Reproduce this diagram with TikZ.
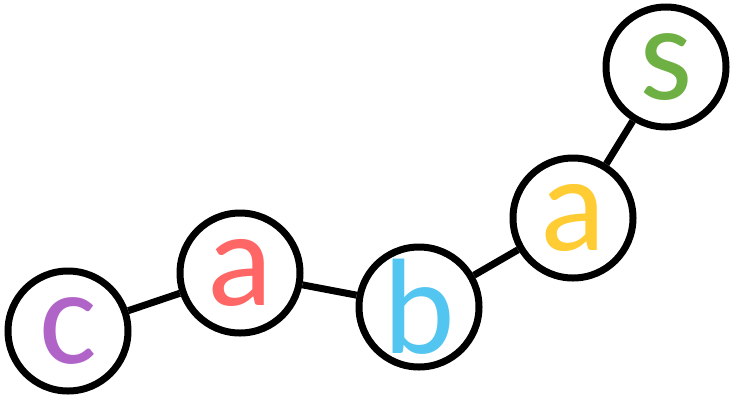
\documentclass[tikz,border=0pt]{standalone}
\usepackage{fontspec}
\setmainfont{Carlito}
\definecolor{cpurple}{HTML}{B064C8}
\definecolor{cred}{HTML}{FF6666}
\definecolor{cblue}{HTML}{52C5F0}
\definecolor{cyellow}{HTML}{FFCC33}
\definecolor{cgreen}{HTML}{6EB043}
\begin{document}
\begin{tikzpicture}[x=1pt,y=-1pt,
  letter/.style={circle,draw=black,line width=7pt,fill=white,minimum size=120pt,inner sep=0pt,
    font=\fontsize{136}{136}\selectfont},
  link/.style={line width=7pt}]
\useasboundingbox (0,0) rectangle (736,400);
\node[letter,text=cpurple] (c) at (68,331) {c};
\node[letter,text=cred] (a1) at (240,273) {a};
\node[letter,text=cblue] (b) at (419,307) {b};
\node[letter,text=cyellow] (a2) at (573,218) {a};
\node[letter,text=cgreen] (s) at (666,67) {s};
\draw[link] (c) -- (a1);
\draw[link] (a1) -- (b);
\draw[link] (b) -- (a2);
\draw[link] (a2) -- (s);
\end{tikzpicture}
\end{document}
